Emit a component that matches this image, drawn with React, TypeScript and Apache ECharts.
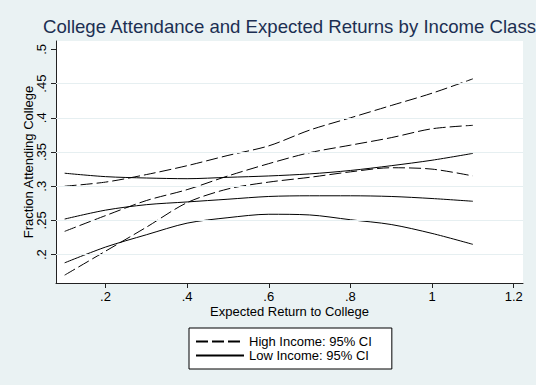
import React, { useEffect, useRef } from "react";
import * as echarts from "echarts";

const titleText = "College Attendance and Expected Returns by Income Class";
const xAxisTitle = "Expected Return to College";
const yAxisTitle = "Fraction Attending College";
const highLabel = "High Income: 95% CI";
const lowLabel = "Low Income: 95% CI";

const xTicks = [0.2, 0.4, 0.6, 0.8, 1.0, 1.2];
const yTicks = [0.2, 0.25, 0.3, 0.35, 0.4, 0.45, 0.5];
const yGrid = [0.2, 0.25, 0.3, 0.35, 0.4, 0.45];

const xValues = [0.1, 0.2, 0.3, 0.4, 0.5, 0.6, 0.7, 0.8, 0.9, 1.0, 1.1];
const highUpper = [0.300, 0.306, 0.317, 0.330, 0.345, 0.359, 0.382, 0.400, 0.418, 0.436, 0.457];
const highFit = [0.234, 0.257, 0.279, 0.295, 0.315, 0.333, 0.349, 0.360, 0.371, 0.384, 0.389];
const highLower = [0.170, 0.205, 0.240, 0.276, 0.296, 0.306, 0.313, 0.321, 0.327, 0.325, 0.315];
const lowUpper = [0.319, 0.314, 0.312, 0.311, 0.313, 0.315, 0.318, 0.323, 0.330, 0.338, 0.348];
const lowFit = [0.252, 0.265, 0.273, 0.277, 0.281, 0.285, 0.286, 0.286, 0.285, 0.282, 0.278];
const lowLower = [0.188, 0.211, 0.229, 0.246, 0.254, 0.259, 0.258, 0.251, 0.244, 0.231, 0.215];

const FONT = "'Liberation Sans', Arial, sans-serif";
const BG = "#EAF2F3";

const fmt = (v: number) => {
  const s = String(Math.round(v * 1000) / 1000);
  return s.startsWith("0.") ? s.slice(1) : s;
};

const pairs = (ys: number[]) => xValues.map((x, i) => [x, ys[i]]);

export default function App() {
  const ref = useRef<HTMLDivElement>(null);
  useEffect(() => {
    if (!ref.current) return;
    const chart = echarts.init(ref.current, null, { renderer: "svg" });
    const mkLine = (name: string, ys: number[], dashed: boolean) => ({
      type: "line",
      name,
      data: pairs(ys),
      symbol: "none",
      smooth: 0.3,
      z: 3,
      lineStyle: { color: "#000", width: 1, type: dashed ? [12, 4] : "solid" },
      itemStyle: { color: "#000" },
    });
    chart.setOption({
      animation: false,
      backgroundColor: BG,
      textStyle: { fontFamily: FONT },
      graphic: [
        {
          type: "text",
          x: 289.5,
          y: 26,
          style: {
            text: titleText,
            align: "center",
            verticalAlign: "middle",
            fontFamily: FONT,
            fontSize: 18.6,
            fill: "#1C2F52",
          },
        },
      ],
      grid: {
        left: 56,
        top: 41,
        right: 13,
        bottom: 102,
        show: true,
        backgroundColor: "#fff",
        borderWidth: 0,
        containLabel: false,
      },
      legend: {
        data: [highLabel, lowLabel],
        left: 189,
        top: 328,
        orient: "vertical",
        itemWidth: 48,
        itemHeight: 14,
        itemGap: 1,
        padding: [7, 20, 7, 6],
        backgroundColor: "#fff",
        borderColor: "#000",
        borderWidth: 1,
        borderRadius: 0,
        selectedMode: false,
        itemStyle: { opacity: 0 },
        textStyle: { fontSize: 13, color: "#000", fontFamily: FONT },
      },
      xAxis: {
        type: "value",
        min: 0.0788,
        max: 1.2228,
        name: xAxisTitle,
        nameLocation: "middle",
        nameGap: 22,
        nameMoveOverlap: false,
        nameTextStyle: { fontSize: 13, color: "#000", fontFamily: FONT },
        axisLine: { show: true, onZero: false, lineStyle: { color: "#222", width: 1 } },
        axisTick: { show: true, length: 5, customValues: xTicks, lineStyle: { color: "#222" } },
        axisLabel: { customValues: xTicks, formatter: fmt, margin: 7, fontSize: 13, color: "#000", fontFamily: FONT },
        splitLine: { show: false },
      },
      yAxis: {
        type: "value",
        min: 0.1585,
        max: 0.5123,
        name: yAxisTitle,
        nameLocation: "middle",
        nameRotate: 90,
        nameGap: 21,
        nameMoveOverlap: false,
        nameTextStyle: { fontSize: 13, color: "#000", fontFamily: FONT },
        axisLine: { show: true, onZero: false, lineStyle: { color: "#222", width: 1 } },
        axisTick: { show: true, length: 5, customValues: yTicks, lineStyle: { color: "#222" } },
        axisLabel: { customValues: yTicks, formatter: fmt, rotate: 90, margin: 8, fontSize: 13, color: "#000", fontFamily: FONT },
        splitLine: { show: false },
      },
      series: [
        {
          type: "line",
          name: "grid",
          data: [],
          z: 1,
          silent: true,
          markLine: {
            silent: true,
            symbol: ["none", "none"],
            label: { show: false },
            lineStyle: { color: "#E6EFF1", width: 1, type: "solid" },
            data: yGrid.map((v) => ({ yAxis: v })),
          },
        },
        mkLine(highLabel, highUpper, true),
        mkLine(highLabel, highFit, true),
        mkLine(highLabel, highLower, true),
        mkLine(lowLabel, lowUpper, false),
        mkLine(lowLabel, lowFit, false),
        mkLine(lowLabel, lowLower, false),
      ],
    });
    return () => chart.dispose();
  }, []);
  return (
    <div
      ref={ref}
      style={{ position: "fixed", left: 0, top: 0, width: 536, height: 385, background: BG }}
    />
  );
}
